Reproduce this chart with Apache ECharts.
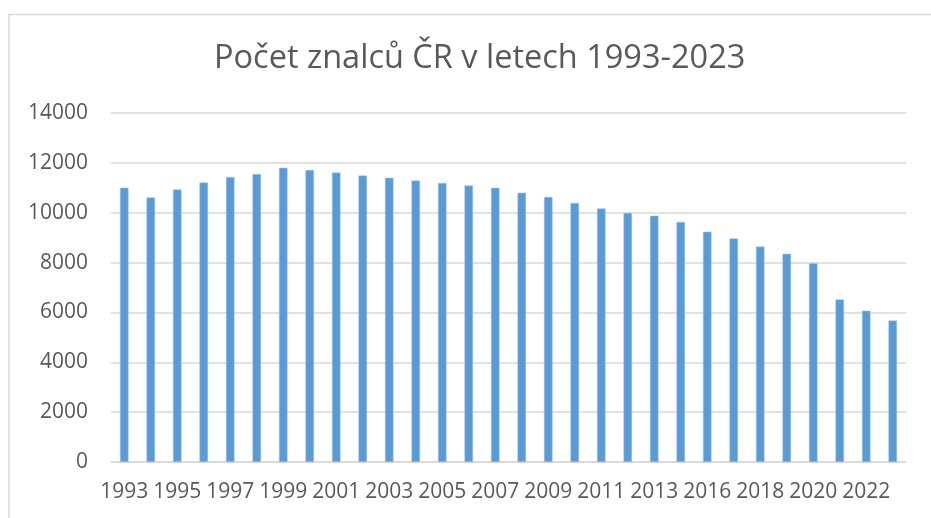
<!DOCTYPE html>
<html>
<head>
<meta charset="utf-8">
<script src="https://cdn.jsdelivr.net/npm/echarts@6/dist/echarts.min.js"></script>
<style>
  html, body { margin: 0; padding: 0; background: #fff; }
  #chart { width: 931px; height: 518px; }
</style>
</head>
<body>
<div id="chart"></div>
<script>
// roky (2014 v datech chybí)
var years = ['1993', '1994', '1995', '1996', '1997', '1998', '1999', '2000', '2001', '2002',
  '2003', '2004', '2005', '2006', '2007', '2008', '2009', '2010', '2011', '2012',
  '2013', '2015', '2016', '2017', '2018', '2019', '2020', '2021', '2022', '2023'];
// počet znalců
var counts = [11000, 10610, 10930, 11210, 11430, 11550, 11800, 11710, 11610, 11490,
  11400, 11290, 11190, 11090, 11000, 10800, 10630, 10390, 10170, 9990,
  9880, 9630, 9240, 8970, 8640, 8350, 7970, 6520, 6070, 5680];
var yTicks = [0, 2000, 4000, 6000, 8000, 10000, 12000, 14000];

var chartDom = document.getElementById('chart');
var myChart = echarts.init(chartDom);
var font = '"Open Sans", "Liberation Sans", sans-serif';
var option = {
  backgroundColor: '#fff',
  animation: false,
  graphic: [
    {
      type: 'rect',
      shape: { x: 9, y: 14.5, width: 940, height: 520 },
      style: { fill: 'none', stroke: '#d9d9d9', lineWidth: 1.5 },
      silent: true
    }
  ],
  title: {
    text: 'Počet znalců ČR v letech 1993-2023',
    left: 209,
    top: 37,
    textStyle: {
      fontFamily: font,
      fontSize: 32.5,
      fontWeight: 'normal',
      color: '#595959'
    }
  },
  grid: {
    left: 111,
    right: 25,
    top: 113,
    bottom: 56
  },
  xAxis: {
    type: 'category',
    data: years,
    axisTick: { show: false },
    axisLine: { lineStyle: { color: '#d9d9d9', width: 1.5 } },
    axisLabel: {
      interval: 1,
      margin: 20,
      fontFamily: font,
      fontSize: 21,
      color: '#595959'
    }
  },
  yAxis: {
    type: 'value',
    min: yTicks[0],
    max: yTicks[yTicks.length - 1],
    interval: 2000,
    axisLine: { show: false },
    axisTick: { show: false },
    splitLine: { lineStyle: { color: '#d9d9d9', width: 1.5 } },
    axisLabel: {
      margin: 23,
      fontFamily: font,
      fontSize: 21,
      color: '#595959',
      formatter: function (v) { return String(v); }
    }
  },
  series: [
    {
      type: 'bar',
      data: counts,
      barWidth: '32%',
      itemStyle: {
        color: '#5b9bd5',
        borderColor: '#9dc3e6',
        borderWidth: 0.5
      }
    }
  ]
};
myChart.setOption(option);
</script>
</body>
</html>
